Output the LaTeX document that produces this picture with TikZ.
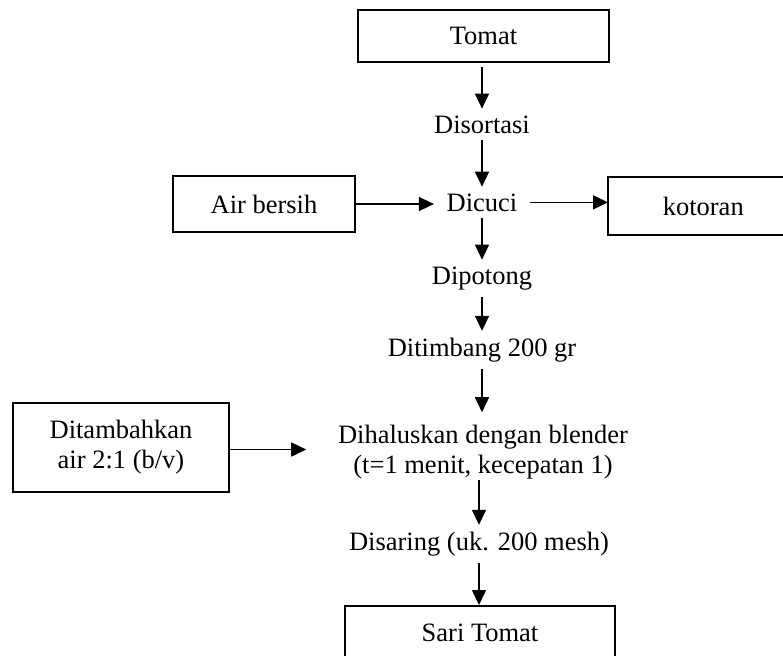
\documentclass[tikz,border=0pt]{standalone}
\usepackage{fontspec}
\setmainfont{Liberation Serif}
\usetikzlibrary{arrows.meta}

\begin{document}
\begin{tikzpicture}[x=0.5pt, y=-0.5pt,
	font=\fontsize{13.25}{15}\selectfont,
	line width=0.8pt,
	box/.style={draw, line width=1pt, inner sep=0pt, align=center},
	proc/.style={inner xsep=6pt, inner ysep=3pt, align=center},
	arr/.style={-{Triangle[length=7.5pt, width=7pt]}}]
	\useasboundingbox (0, 0) rectangle (783, 655);

	\node[box, minimum width=125.5pt, minimum height=26pt] (tomat) at (483.5, 36) {Tomat};
	\node[proc, anchor=base] (sortasi) at (482, 133) {Disortasi};
	\node[proc, anchor=base] (cuci) at (482, 211) {Dicuci};
	\node[box, minimum width=91pt, minimum height=28pt] (airb) at (264, 204) {Air bersih};
	\node[anchor=west, inner xsep=27pt, inner ysep=0pt, minimum height=28pt] (kotor) at (608, 206) {kotoran};
	\node[proc, anchor=base] (potong) at (482, 284) {Dipotong};
	\node[proc, anchor=base] (timbang) at (482, 356) {Ditimbang 200 gr};
	\node[proc, inner ysep=0pt] (halus) at (483, 452) {Dihaluskan dengan blender\\(t=1 menit, kecepatan 1)};
	\node[box, minimum width=108pt, minimum height=44.5pt] (tambah) at (121, 447.5) {Ditambahkan\\air 2:1 (b/v)};
	\node[proc, anchor=base] (saring) at (479, 550) {Disaring (uk. 200 mesh)};
	\node[box, anchor=north, minimum width=135pt, inner ysep=8.5pt, text height=9pt, text depth=20pt] (sari) at (480, 605) {Sari Tomat};

	% kotoran box runs off the right edge
	\draw[line width=1pt] ([xshift=30pt]kotor.north east) -- (kotor.north west) -- (kotor.south west) -- ([xshift=30pt]kotor.south east);

	\draw[arr, shorten <=2pt] (sortasi.north |- tomat.south) -- (sortasi.north);
	\draw[arr] (sortasi) -- (cuci);
	\draw[arr] (airb.east) -- (airb.east -| cuci.west);
	\draw[arr] (cuci.east) -- (cuci.east -| kotor.west);
	\draw[arr] (cuci) -- (potong);
	\draw[arr] (potong) -- (timbang);
	\draw[arr, shorten >=6pt] (timbang.south) -- (timbang.south |- halus.north);
	\draw[arr, shorten >=9.5pt] (tambah.east) ++(0, 2) -- (halus.west |- 0, 449.5);
	\draw[arr] (halus.south -| saring) -- (saring.north);
	\draw[arr] (saring.south) -- (saring.south |- sari.north);
\end{tikzpicture}
\end{document}
